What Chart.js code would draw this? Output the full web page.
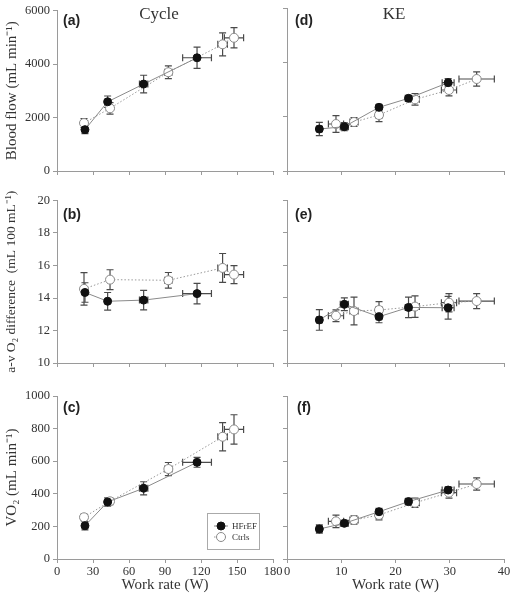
<!DOCTYPE html>
<html>
<head>
<meta charset="utf-8">
<script src="https://cdn.jsdelivr.net/npm/chart.js@4.4.1/dist/chart.umd.min.js"></script>
<style>
  html, body { margin: 0; padding: 0; background: #fff; }
  #wrap { position: relative; width: 512px; height: 599px; overflow: hidden; }
  canvas { position: absolute; }
  .lab { position: absolute; font-family: 'Liberation Sans', Arial, sans-serif; font-weight: bold; font-size: 14px; color: #222; line-height: 14px; }
  .ttl { position: absolute; font-family: 'Liberation Serif', 'Times New Roman', serif; font-size: 17px; color: #333; line-height: 17px; transform: translateX(-50%); }
</style>
</head>
<body>
<div id="wrap">
  <canvas id="ca" width="285" height="190" style="left:0;top:0"></canvas>
  <canvas id="cb" width="285" height="190" style="left:0;top:190px"></canvas>
  <canvas id="cc" width="285" height="219" style="left:0;top:380px"></canvas>
  <canvas id="cd" width="232" height="190" style="left:280px;top:0"></canvas>
  <canvas id="ce" width="232" height="190" style="left:280px;top:190px"></canvas>
  <canvas id="cf" width="232" height="219" style="left:280px;top:380px"></canvas>
  <div class="lab" style="left:63px;top:13px">(a)</div>
  <div class="lab" style="left:63px;top:207px">(b)</div>
  <div class="lab" style="left:63px;top:400px">(c)</div>
  <div class="lab" style="left:295px;top:13px">(d)</div>
  <div class="lab" style="left:295px;top:207px">(e)</div>
  <div class="lab" style="left:297px;top:400px">(f)</div>
  <div class="ttl" style="left:159px;top:5px">Cycle</div>
  <div class="ttl" style="left:394px;top:5px">KE</div>
</div>
<script>
// ---------- DATA ----------
const seriesNames = ['HFrEF', 'Ctrls'];

// Cycle work rate (W)
const cycleHF_W    = [23.3, 42.2, 72.2, 116.7];
const cycleHF_Wsd  = [1.2, 1.5, 3.5, 12];
const cycleCt_W    = [22.5, 44.2, 92.8, 138, 147.5];
const cycleCt_Wsd  = [1.5, 2, 3, 4, 8];

// Cycle blood flow (mL/min)
const cycleHF_flow   = [1546, 2588, 3250, 4233];
const cycleHF_flowSd = [150, 215, 330, 400];
const cycleCt_flow   = [1792, 2344, 3692, 4736, 4980];
const cycleCt_flowSd = [165, 215, 240, 430, 380];

// Cycle a-v O2 difference (mL/100 mL)
const cycleHF_avo2   = [14.34, 13.8, 13.87, 14.27];
const cycleHF_avo2Sd = [0.6, 0.54, 0.6, 0.63];
const cycleCt_avo2   = [14.56, 15.13, 15.09, 15.85, 15.44];
const cycleCt_avo2Sd = [1.0, 0.61, 0.48, 0.89, 0.55];

// Cycle VO2 (mL/min)
const cycleHF_vo2   = [204, 350, 434, 593];
const cycleHF_vo2Sd = [25, 25, 40, 30];
const cycleCt_vo2   = [256, 354, 552, 750, 795];
const cycleCt_vo2Sd = [20, 20, 40, 87, 90];

// KE work rate (W)
const keHF_W   = [5.96, 10.57, 16.96, 22.4, 29.7];
const keHF_Wsd = [0.5, 0.75, 0.5, 0.6, 1.1];
const keCt_W   = [9.03, 12.35, 16.96, 23.6, 29.86, 34.96];
const keCt_Wsd = [1.4, 0.75, 0.6, 0.8, 1.4, 3.26];

// KE blood flow
const keHF_flow   = [1546, 1631, 2344, 2675, 3251];
const keHF_flowSd = [245, 150, 100, 110, 150];
const keCt_flow   = [1730, 1803, 2061, 2638, 2981, 3386];
const keCt_flowSd = [310, 165, 245, 215, 215, 265];

// KE a-v O2 difference
const keHF_avo2   = [12.64, 13.6, 12.84, 13.41, 13.39];
const keHF_avo2Sd = [0.63, 0.39, 0.37, 0.63, 0.7];
const keCt_avo2   = [12.90, 13.19, 13.25, 13.46, 13.70, 13.80];
const keCt_avo2Sd = [0.36, 0.85, 0.51, 0.66, 0.56, 0.46];

// KE VO2
const keHF_vo2   = [184, 219, 290, 352, 423];
const keHF_vo2Sd = [25, 18, 20, 20, 20];
const keCt_vo2   = [231, 239, 270, 345, 407, 460];
const keCt_vo2Sd = [38, 25, 30, 28, 33, 38];

// Axis ranges / tick steps
const cycleXTicks = [0, 180, 30];
const keXTicks    = [0, 40, 10];
const flowTicks   = [0, 6000, 2000];
const avo2Ticks   = [10, 20, 2];
const vo2Ticks    = [0, 1000, 200];

// ---------- STYLE ----------
const SERIF = "'Liberation Serif', 'Times New Roman', serif";
const AXIS_COLOR = '#9a9a9a';
const TEXT_COLOR = '#333';

const errorBarPlugin = {
  id: 'errbars',
  beforeDatasetsDraw(chart) {
    const ctx = chart.ctx, xs = chart.scales.x, ys = chart.scales.y;
    const cap = 3.5;
    chart.data.datasets.forEach((ds) => {
      ctx.save();
      ctx.strokeStyle = '#4a4a4a';
      ctx.lineWidth = 1.2;
      ds.data.forEach((p, j) => {
        const px = xs.getPixelForValue(p.x), py = ys.getPixelForValue(p.y);
        const ey = ds.yErr[j], ex = ds.xErr[j];
        const y1 = ys.getPixelForValue(p.y - ey), y2 = ys.getPixelForValue(p.y + ey);
        const x1 = xs.getPixelForValue(p.x - ex), x2 = xs.getPixelForValue(p.x + ex);
        ctx.beginPath();
        ctx.moveTo(px, y1); ctx.lineTo(px, y2);
        ctx.moveTo(px - cap, y1); ctx.lineTo(px + cap, y1);
        ctx.moveTo(px - cap, y2); ctx.lineTo(px + cap, y2);
        ctx.moveTo(x1, py); ctx.lineTo(x2, py);
        ctx.moveTo(x1, py - cap); ctx.lineTo(x1, py + cap);
        ctx.moveTo(x2, py - cap); ctx.lineTo(x2, py + cap);
        ctx.stroke();
      });
      ctx.restore();
    });
  }
};

const legendPlugin = {
  id: 'boxlegend',
  afterDatasetsDraw(chart, args, opts) {
    if (!opts || !opts.show) return;
    const ctx = chart.ctx;
    const bx = 207, by = 133, bw = 52, bh = 36;
    ctx.save();
    ctx.strokeStyle = '#aaa'; ctx.lineWidth = 1;
    ctx.fillStyle = '#fff';
    ctx.fillRect(bx, by, bw, bh);
    ctx.strokeRect(bx + 0.5, by + 0.5, bw, bh);
    chart.data.datasets.forEach((ds, i) => {
      const y = by + 13 + i * 11;
      ctx.strokeStyle = ds.borderColor;
      ctx.lineWidth = 1;
      ctx.setLineDash(ds.borderDash || []);
      ctx.beginPath(); ctx.moveTo(bx + 7, y); ctx.lineTo(bx + 21, y); ctx.stroke();
      ctx.setLineDash([]);
      ctx.beginPath(); ctx.arc(bx + 14, y, ds.pointRadius, 0, Math.PI * 2);
      ctx.fillStyle = ds.pointBackgroundColor; ctx.fill();
      ctx.strokeStyle = ds.pointBorderColor; ctx.stroke();
      ctx.fillStyle = TEXT_COLOR;
      ctx.font = '9px ' + SERIF;
      ctx.textBaseline = 'middle';
      ctx.fillText(ds.label, bx + 25, y + 0.5);
    });
    ctx.restore();
  }
};

function pts(xs, ys) { return xs.map((x, i) => ({ x: x, y: ys[i] })); }

function makeDatasets(hfX, hfXsd, hfY, hfYsd, ctX, ctXsd, ctY, ctYsd) {
  return [
    {
      label: seriesNames[0], data: pts(hfX, hfY), xErr: hfXsd, yErr: hfYsd,
      showLine: true, borderColor: '#8a8a8a', borderWidth: 1,
      pointRadius: 4, pointBackgroundColor: '#111', pointBorderColor: '#111', pointBorderWidth: 1,
    },
    {
      label: seriesNames[1], data: pts(ctX, ctY), xErr: ctXsd, yErr: ctYsd,
      showLine: true, borderColor: '#999', borderWidth: 1, borderDash: [1.5, 2],
      pointRadius: 4.5, pointBackgroundColor: '#fff', pointBorderColor: '#8a8a8a', pointBorderWidth: 1,
    }
  ];
}

function plainTick(v) { return String(v); }

function makePanel(id, cfg) {
  const tickFont = { family: SERIF, size: 12.5 };
  new Chart(document.getElementById(id), {
    type: 'scatter',
    data: { datasets: cfg.datasets },
    plugins: [errorBarPlugin, legendPlugin],
    options: {
      responsive: false, animation: false, devicePixelRatio: 1,
      layout: { padding: { left: 0, right: cfg.padRight, top: cfg.padTop, bottom: 0 } },
      plugins: { legend: { display: false }, tooltip: { enabled: false }, boxlegend: { show: !!cfg.legend } },
      scales: {
        x: {
          type: 'linear', min: cfg.xt[0], max: cfg.xt[1],
          border: { display: true, color: AXIS_COLOR, width: 1 },
          grid: { display: true, drawOnChartArea: false, drawTicks: true, tickLength: 4, color: AXIS_COLOR },
          ticks: { display: cfg.xLabels, stepSize: cfg.xt[2], font: tickFont, color: TEXT_COLOR, padding: 1, maxRotation: 0, autoSkip: false, callback: plainTick },
          title: { display: cfg.xLabels, text: 'Work rate (W)', font: { family: SERIF, size: 15 }, color: TEXT_COLOR, padding: { top: 0, bottom: 5 } },
          afterFit: (s) => { s.height = cfg.xH; }
        },
        y: {
          type: 'linear', min: cfg.yt[0], max: cfg.yt[1],
          border: { display: true, color: AXIS_COLOR, width: 1 },
          grid: { display: true, drawOnChartArea: false, drawTicks: true, tickLength: 4, color: AXIS_COLOR },
          ticks: { display: !!cfg.yTitle, stepSize: cfg.yt[2], font: tickFont, color: TEXT_COLOR, padding: 3, autoSkip: false, callback: plainTick },
          title: { display: !!cfg.yTitle, text: cfg.yTitle || '', font: { family: SERIF, size: cfg.yTitleSize || 15 }, color: TEXT_COLOR, padding: { top: 3, bottom: 0 } },
          afterFit: (s) => { s.width = cfg.yW; }
        }
      }
    }
  });
}

// Left column (Cycle)
makePanel('ca', { datasets: makeDatasets(cycleHF_W, cycleHF_Wsd, cycleHF_flow, cycleHF_flowSd, cycleCt_W, cycleCt_Wsd, cycleCt_flow, cycleCt_flowSd),
  xt: cycleXTicks, yt: flowTicks, xLabels: false, xH: 19, yW: 57, padTop: 8, padRight: 12, yTitle: 'Blood flow (mL min\u207B\u00B9)' });
makePanel('cb', { datasets: makeDatasets(cycleHF_W, cycleHF_Wsd, cycleHF_avo2, cycleHF_avo2Sd, cycleCt_W, cycleCt_Wsd, cycleCt_avo2, cycleCt_avo2Sd),
  xt: cycleXTicks, yt: avo2Ticks, xLabels: false, xH: 17, yW: 57, padTop: 10, padRight: 12, yTitle: 'a-v O\u2082 difference  (mL 100 mL\u207B\u00B9)', yTitleSize: 13.5 });
makePanel('cc', { datasets: makeDatasets(cycleHF_W, cycleHF_Wsd, cycleHF_vo2, cycleHF_vo2Sd, cycleCt_W, cycleCt_Wsd, cycleCt_vo2, cycleCt_vo2Sd),
  xt: cycleXTicks, yt: vo2Ticks, xLabels: true, xH: 40, yW: 57, padTop: 16, padRight: 12, yTitle: 'VO\u2082 (mL min\u207B\u00B9)', legend: true });

// Right column (KE)
makePanel('cd', { datasets: makeDatasets(keHF_W, keHF_Wsd, keHF_flow, keHF_flowSd, keCt_W, keCt_Wsd, keCt_flow, keCt_flowSd),
  xt: keXTicks, yt: flowTicks, xLabels: false, xH: 19, yW: 7, padTop: 8, padRight: 8 });
makePanel('ce', { datasets: makeDatasets(keHF_W, keHF_Wsd, keHF_avo2, keHF_avo2Sd, keCt_W, keCt_Wsd, keCt_avo2, keCt_avo2Sd),
  xt: keXTicks, yt: avo2Ticks, xLabels: false, xH: 17, yW: 7, padTop: 10, padRight: 8 });
makePanel('cf', { datasets: makeDatasets(keHF_W, keHF_Wsd, keHF_vo2, keHF_vo2Sd, keCt_W, keCt_Wsd, keCt_vo2, keCt_vo2Sd),
  xt: keXTicks, yt: vo2Ticks, xLabels: true, xH: 40, yW: 7, padTop: 16, padRight: 8 });
</script>
</body>
</html>
